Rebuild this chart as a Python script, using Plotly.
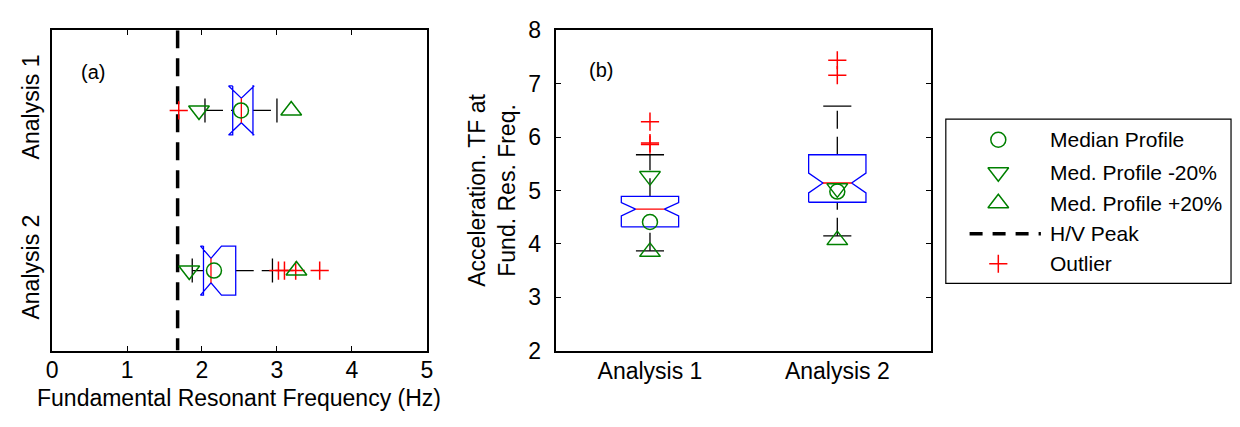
import plotly.graph_objects as go

# ---------------- data ----------------
categories = ["Analysis 1", "Analysis 2"]
positions = [1, 2]

# Panel (a): fundamental resonant frequency (Hz)
a_q1 = [2.41, 2.02]
a_med = [2.525, 2.12]
a_q3 = [2.68, 2.45]
a_notch = [0.17, 0.14]
a_low = [2.04, 1.87]
a_high = [3.00, 2.94]
a_outliers = [[1.69], [3.02, 3.10, 3.25, 3.57]]
a_median_profile = [2.52, 2.16]
a_minus20 = [1.96, 1.83]
a_plus20 = [3.19, 3.26]
hv_peak = 1.675

# Panel (b): acceleration TF at fundamental resonant frequency
b_q1 = [4.32, 4.78]
b_med = [4.65, 5.14]
b_q3 = [4.89, 5.67]
b_notch = [0.125, 0.185]
b_low = [3.87, 4.15]
b_high = [5.67, 6.58]
b_outliers = [[5.86, 5.89, 6.29], [7.16, 7.44]]
b_median_profile = [4.41, 4.98]
b_minus20 = [5.27, 5.04]
b_plus20 = [3.85, 4.07]

legend_labels = ["Median Profile", "Med. Profile -20%", "Med. Profile +20%", "H/V Peak", "Outlier"]

# ---------------- style ----------------
W, H = 1240, 427
FONT = "Liberation Sans, Arial, sans-serif"
BLUE = "#0000FF"
RED = "#FF0000"
GREEN = "#008000"
BLACK = "#000000"
HW = 0.153      # half box thickness (category units)
ND = 0.5 * HW   # notch depth
CW = 0.075      # half cap length
WDASH = "18px,8px"

fig = go.Figure()


def add_box(xa, ya, p, q1, m, q3, n, lo, hi, outs, horizontal):
    s = [q1, m - n, m, m + n, q3, q3, m + n, m, m - n, q1, q1]
    c = [p - HW, p - HW, p - HW + ND, p - HW, p - HW, p + HW, p + HW, p + HW - ND, p + HW, p + HW, p - HW]

    def tr(vals, cats, **kw):
        if horizontal:
            return go.Scatter(x=vals, y=cats, xaxis=xa, yaxis=ya, showlegend=False, hoverinfo="skip", **kw)
        return go.Scatter(x=cats, y=vals, xaxis=xa, yaxis=ya, showlegend=False, hoverinfo="skip", **kw)

    # whiskers (dashed) and caps
    fig.add_trace(tr([lo, q1], [p, p], mode="lines", line=dict(color=BLACK, width=1.3, dash=WDASH)))
    fig.add_trace(tr([q3, hi], [p, p], mode="lines", line=dict(color=BLACK, width=1.3, dash=WDASH)))
    fig.add_trace(tr([lo, lo], [p - CW, p + CW], mode="lines", line=dict(color=BLACK, width=1.3)))
    fig.add_trace(tr([hi, hi], [p - CW, p + CW], mode="lines", line=dict(color=BLACK, width=1.3)))
    # notched box
    fig.add_trace(tr(s, c, mode="lines", line=dict(color=BLUE, width=1.3)))
    # median
    fig.add_trace(tr([m, m], [p - HW + ND, p + HW - ND], mode="lines", line=dict(color=RED, width=1.3)))
    # outliers
    fig.add_trace(tr(outs, [p] * len(outs), mode="markers",
                     marker=dict(symbol="cross-thin-open", size=13, color=RED, line=dict(color=RED, width=1.5))))


def add_profiles(xa, ya, p, mp, mm, mpl, horizontal):
    for v, sym, sz in [(mp, "circle-open", 15), (mm, "triangle-down-open", 18), (mpl, "triangle-up-open", 18)]:
        kw = dict(mode="markers", xaxis=xa, yaxis=ya, showlegend=False, hoverinfo="skip",
                  marker=dict(symbol=sym, size=sz, color=GREEN, line=dict(color=GREEN, width=1.5)))
        if horizontal:
            fig.add_trace(go.Scatter(x=[v], y=[p], **kw))
        else:
            fig.add_trace(go.Scatter(x=[p], y=[v], **kw))


# H/V peak line in panel (a)
fig.add_trace(go.Scatter(x=[hv_peak, hv_peak], y=[0.5, 2.5], xaxis="x", yaxis="y", mode="lines",
                         line=dict(color=BLACK, width=3.5, dash="18px,10px"), showlegend=False, hoverinfo="skip"))

for i, p in enumerate(positions):
    add_box("x", "y", p, a_q1[i], a_med[i], a_q3[i], a_notch[i], a_low[i], a_high[i], a_outliers[i], True)
    add_profiles("x", "y", p, a_median_profile[i], a_minus20[i], a_plus20[i], True)
    add_box("x2", "y2", p, b_q1[i], b_med[i], b_q3[i], b_notch[i], b_low[i], b_high[i], b_outliers[i], False)
    add_profiles("x2", "y2", p, b_median_profile[i], b_minus20[i], b_plus20[i], False)

# ---------------- manual legend ----------------
LX0, LX1, LY0, LY1 = 949, 1237, 113, 288
row_y = [135, 169.5, 202.5, 235, 267]
key_x = 1002
legend_styles = [
    dict(symbol="circle-open", size=15, color=GREEN),
    dict(symbol="triangle-down-open", size=18, color=GREEN),
    dict(symbol="triangle-up-open", size=18, color=GREEN),
    None,
    dict(symbol="cross-thin-open", size=13, color=RED),
]
for lab, ry, st in zip(legend_labels, row_y, legend_styles):
    if st is None:
        fig.add_trace(go.Scatter(x=[973, 1045], y=[ry, ry], xaxis="x3", yaxis="y3", mode="lines",
                                 line=dict(color=BLACK, width=3.5, dash="13px,10px"),
                                 showlegend=False, hoverinfo="skip", name=lab))
    else:
        fig.add_trace(go.Scatter(x=[key_x], y=[ry], xaxis="x3", yaxis="y3", mode="markers",
                                 marker=dict(symbol=st["symbol"], size=st["size"], color=st["color"],
                                             line=dict(color=st["color"], width=1.5)),
                                 showlegend=False, hoverinfo="skip", name=lab))
    fig.add_annotation(x=1052 / W, y=1 - ry / H, xref="paper", yref="paper", text=lab, showarrow=False,
                       xanchor="left", yanchor="middle", font=dict(family=FONT, size=21, color=BLACK))

fig.add_shape(type="rect", xref="paper", yref="paper", x0=LX0 / W, x1=LX1 / W, y0=1 - LY1 / H, y1=1 - LY0 / H,
              line=dict(color=BLACK, width=1.2), fillcolor="rgba(0,0,0,0)")

# ---------------- axes ----------------
top, bottom = 18.5, 359.5
ydom = [1 - bottom / H, 1 - top / H]
axis_common = dict(showline=True, linecolor=BLACK, linewidth=1.5, mirror="allticks", showgrid=False,
                   zeroline=False, tickfont=dict(family=FONT, size=23, color=BLACK), tickcolor=BLACK)

fig.update_layout(
    width=W, height=H,
    margin=dict(l=0, r=0, t=0, b=0),
    paper_bgcolor="white", plot_bgcolor="white",
    font=dict(family=FONT, size=23, color=BLACK),
    showlegend=False,
    xaxis=dict(domain=[46.5 / W, 425 / W], range=[0, 5], tickvals=[0, 1, 2, 3, 4, 5], ticks="inside",
               ticklen=5, ticklabelstandoff=-2, anchor="y", **axis_common),
    yaxis=dict(domain=ydom, range=[2.5, 0.5], tickvals=positions, ticktext=categories, ticks="",
               tickangle=-90, ticklabelstandoff=2, anchor="x", **axis_common),
    xaxis2=dict(domain=[555.7 / W, 934 / W], range=[0.5, 2.5], tickvals=positions, ticktext=categories,
                ticks="", ticklabelstandoff=-1, anchor="y2", **axis_common),
    yaxis2=dict(domain=ydom, range=[2, 8], tickvals=[2, 3, 4, 5, 6, 7, 8], ticks="inside", ticklen=5,
                ticklabelstandoff=9, anchor="x2", **axis_common),
    xaxis3=dict(domain=[LX0 / W, LX1 / W], range=[LX0, LX1], visible=False, anchor="y3"),
    yaxis3=dict(domain=[1 - LY1 / H, 1 - LY0 / H], range=[LY1, LY0], visible=False, anchor="x3"),
)

# titles and panel labels
fig.add_annotation(x=235.7 / W, y=1 - 409.7 / H, xref="paper", yref="paper",
                   text="Fundamental Resonant Frequency (Hz)", showarrow=False,
                   xanchor="center", yanchor="middle", font=dict(family=FONT, size=23))
fig.add_annotation(x=491 / W, y=1 - 189 / H, xref="paper", yref="paper",
                   text="Acceleration. TF at<br>Fund. Res. Freq.", showarrow=False, textangle=-90,
                   xanchor="center", yanchor="middle", font=dict(family=FONT, size=23))
fig.add_annotation(x=88 / W, y=1 - 63 / H, xref="paper", yref="paper", text="(a)", showarrow=False,
                   xanchor="center", yanchor="middle", font=dict(family=FONT, size=20))
fig.add_annotation(x=601 / W, y=1 - 61 / H, xref="paper", yref="paper", text="(b)", showarrow=False,
                   xanchor="center", yanchor="middle", font=dict(family=FONT, size=20))

fig.write_html("out.html")
